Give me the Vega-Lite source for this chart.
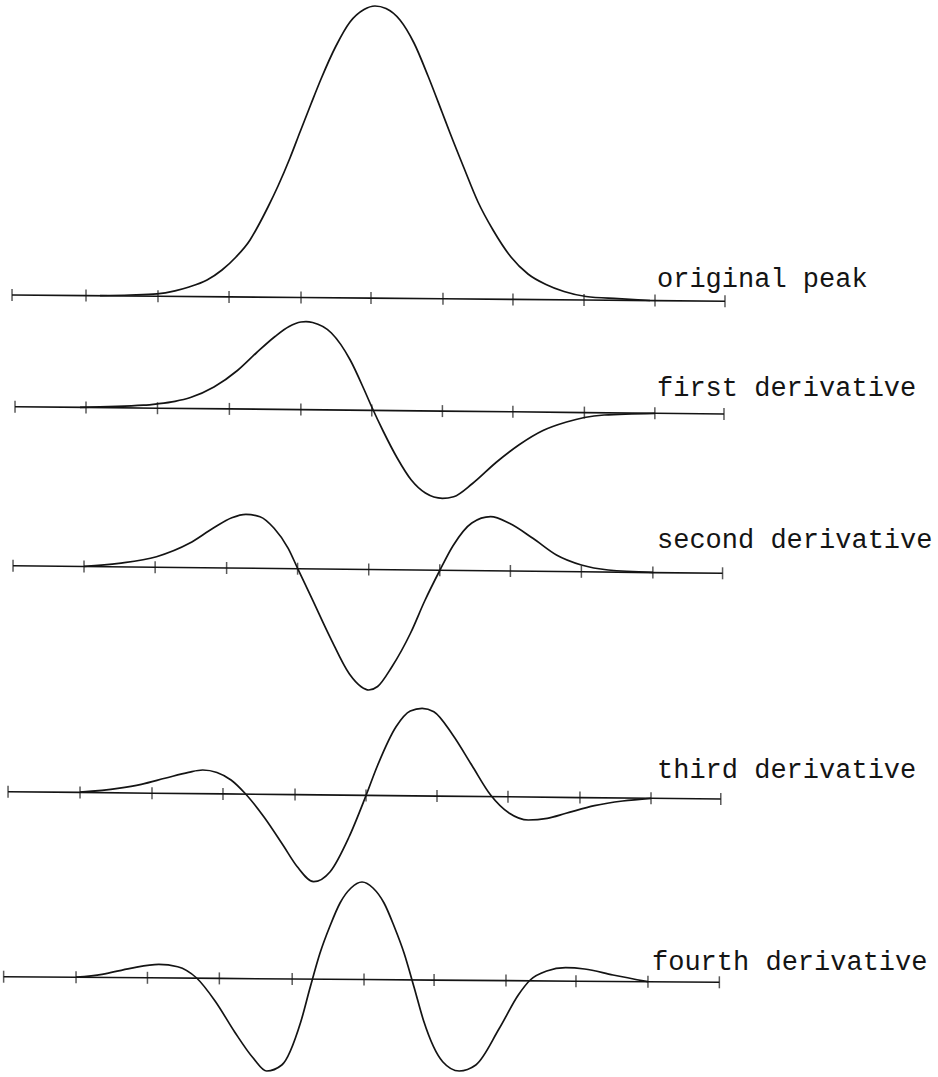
{
  "$schema": "https://vega.github.io/schema/vega-lite/v6.json",
  "width": 938,
  "height": 1077,
  "padding": 0,
  "autosize": {"type": "none"},
  "background": "white",
  "config": {"view": {"stroke": null}},
  "datasets": {
    "axis1": [{"x":-0.028,"y":0.01},{"x":1.011,"y":0.004},{"x":2.022,"y":-0.003},{"x":3.020,"y":-0.009},{"x":4.031,"y":-0.015},{"x":5.014,"y":-0.021},{"x":6.025,"y":-0.028},{"x":7.008,"y":-0.034},{"x":8.006,"y":-0.040},{"x":9.003,"y":-0.046},{"x":9.986,"y":-0.052}],
    "curve1": [{"x":1.208,"y":0.003},{"x":1.629,"y":0.01},{"x":2.008,"y":0.022},{"x":2.261,"y":0.052},{"x":2.458,"y":0.09},{"x":2.711,"y":0.16},{"x":2.921,"y":0.26},{"x":3.118,"y":0.39},{"x":3.315,"y":0.56},{"x":3.413,"y":0.68},{"x":3.567,"y":0.89},{"x":3.708,"y":1.10},{"x":3.876,"y":1.38},{"x":4.017,"y":1.64},{"x":4.171,"y":1.92},{"x":4.312,"y":2.17},{"x":4.522,"y":2.50},{"x":4.719,"y":2.74},{"x":4.916,"y":2.865},{"x":5.070,"y":2.90},{"x":5.225,"y":2.875},{"x":5.421,"y":2.76},{"x":5.618,"y":2.53},{"x":5.815,"y":2.20},{"x":6.011,"y":1.84},{"x":6.124,"y":1.63},{"x":6.320,"y":1.28},{"x":6.517,"y":0.94},{"x":6.728,"y":0.66},{"x":6.980,"y":0.39},{"x":7.219,"y":0.22},{"x":7.472,"y":0.115},{"x":7.725,"y":0.045},{"x":8.034,"y":-0.005},{"x":8.483,"y":-0.027},{"x":8.933,"y":-0.045}],
    "axis2": [{"x":0.014,"y":0.003},{"x":1.011,"y":-0.004},{"x":2.015,"y":-0.012},{"x":3.025,"y":-0.019},{"x":4.029,"y":-0.026},{"x":5.025,"y":-0.034},{"x":6.017,"y":-0.041},{"x":7.007,"y":-0.048},{"x":8.011,"y":-0.056},{"x":9.001,"y":-0.063},{"x":9.972,"y":-0.07}],
    "curve2": [{"x":0.927,"y":-0.003},{"x":1.817,"y":0.018},{"x":2.015,"y":0.032},{"x":2.261,"y":0.057},{"x":2.478,"y":0.095},{"x":2.808,"y":0.20},{"x":3.138,"y":0.365},{"x":3.402,"y":0.54},{"x":3.666,"y":0.705},{"x":3.864,"y":0.805},{"x":4.029,"y":0.85},{"x":4.101,"y":0.854},{"x":4.194,"y":0.845},{"x":4.458,"y":0.74},{"x":4.722,"y":0.47},{"x":4.920,"y":0.17},{"x":5.025,"y":0.0},{"x":5.184,"y":-0.24},{"x":5.382,"y":-0.51},{"x":5.580,"y":-0.73},{"x":5.778,"y":-0.86},{"x":6.017,"y":-0.913},{"x":6.175,"y":-0.897},{"x":6.440,"y":-0.765},{"x":6.770,"y":-0.555},{"x":7.100,"y":-0.375},{"x":7.430,"y":-0.235},{"x":7.760,"y":-0.15},{"x":8.011,"y":-0.105},{"x":8.288,"y":-0.08},{"x":9.001,"y":-0.063}],
    "axis3": [{"x":-0.014,"y":0.003},{"x":0.983,"y":-0.005},{"x":1.982,"y":-0.012},{"x":2.986,"y":-0.02},{"x":3.983,"y":-0.027},{"x":4.982,"y":-0.035},{"x":5.980,"y":-0.043},{"x":6.972,"y":-0.05},{"x":7.969,"y":-0.058},{"x":8.973,"y":-0.066},{"x":9.952,"y":-0.073}],
    "curve3": [{"x":0.983,"y":-0.004},{"x":1.472,"y":0.027},{"x":2.001,"y":0.093},{"x":2.463,"y":0.227},{"x":2.794,"y":0.377},{"x":3.059,"y":0.483},{"x":3.257,"y":0.517},{"x":3.455,"y":0.493},{"x":3.653,"y":0.377},{"x":3.851,"y":0.177},{"x":3.983,"y":-0.023},{"x":4.183,"y":-0.323},{"x":4.447,"y":-0.723},{"x":4.711,"y":-1.08},{"x":4.876,"y":-1.207},{"x":4.982,"y":-1.24},{"x":5.107,"y":-1.205},{"x":5.306,"y":-1.01},{"x":5.570,"y":-0.67},{"x":5.768,"y":-0.35},{"x":5.980,"y":-0.045},{"x":6.164,"y":0.20},{"x":6.430,"y":0.43},{"x":6.694,"y":0.493},{"x":6.958,"y":0.427},{"x":7.288,"y":0.277},{"x":7.619,"y":0.11},{"x":7.969,"y":0.01},{"x":8.346,"y":-0.04},{"x":8.973,"y":-0.063}],
    "axis4": [{"x":-0.084,"y":0.003},{"x":0.927,"y":-0.004},{"x":1.938,"y":-0.012},{"x":2.935,"y":-0.019},{"x":3.947,"y":-0.026},{"x":4.944,"y":-0.034},{"x":5.941,"y":-0.041},{"x":6.938,"y":-0.048},{"x":7.949,"y":-0.056},{"x":8.947,"y":-0.063},{"x":9.927,"y":-0.07}],
    "curve4": [{"x":0.927,"y":-0.002},{"x":1.458,"y":0.037},{"x":1.788,"y":0.077},{"x":2.119,"y":0.137},{"x":2.451,"y":0.197},{"x":2.650,"y":0.22},{"x":2.850,"y":0.195},{"x":3.048,"y":0.12},{"x":3.247,"y":-0.015},{"x":3.511,"y":-0.25},{"x":3.777,"y":-0.53},{"x":3.976,"y":-0.745},{"x":4.208,"y":-0.897},{"x":4.440,"y":-0.797},{"x":4.705,"y":-0.45},{"x":4.944,"y":-0.035},{"x":5.103,"y":0.26},{"x":5.368,"y":0.655},{"x":5.566,"y":0.81},{"x":5.732,"y":0.837},{"x":5.897,"y":0.803},{"x":6.163,"y":0.57},{"x":6.428,"y":0.27},{"x":6.694,"y":-0.03},{"x":6.958,"y":-0.213},{"x":7.223,"y":-0.28},{"x":7.489,"y":-0.263},{"x":7.753,"y":-0.213},{"x":8.152,"y":-0.137},{"x":8.549,"y":-0.09},{"x":8.947,"y":-0.063}],
    "axis5": [{"x":-0.146,"y":0.003},{"x":0.871,"y":-0.003},{"x":1.874,"y":-0.008},{"x":2.884,"y":-0.014},{"x":3.907,"y":-0.02},{"x":4.916,"y":-0.025},{"x":5.900,"y":-0.031},{"x":6.910,"y":-0.036},{"x":7.893,"y":-0.042},{"x":8.904,"y":-0.047},{"x":9.907,"y":-0.053}],
    "curve5": [{"x":0.871,"y":-0.002},{"x":1.236,"y":0.027},{"x":1.635,"y":0.087},{"x":2.034,"y":0.127},{"x":2.299,"y":0.103},{"x":2.565,"y":-0.01},{"x":2.831,"y":-0.247},{"x":3.097,"y":-0.547},{"x":3.362,"y":-0.813},{"x":3.549,"y":-0.94},{"x":3.761,"y":-0.88},{"x":4.027,"y":-0.45},{"x":4.157,"y":-0.11},{"x":4.298,"y":0.24},{"x":4.438,"y":0.51},{"x":4.579,"y":0.74},{"x":4.733,"y":0.89},{"x":4.888,"y":0.95},{"x":5.042,"y":0.89},{"x":5.197,"y":0.74},{"x":5.337,"y":0.51},{"x":5.478,"y":0.24},{"x":5.622,"y":-0.11},{"x":5.754,"y":-0.44},{"x":6.021,"y":-0.847},{"x":6.253,"y":-0.94},{"x":6.486,"y":-0.88},{"x":6.817,"y":-0.513},{"x":7.083,"y":-0.18},{"x":7.250,"y":-0.03},{"x":7.482,"y":0.06},{"x":7.747,"y":0.093},{"x":8.014,"y":0.08},{"x":8.413,"y":0.02},{"x":8.904,"y":-0.047}]
  },
  "encoding": {
    "x": {"field": "x", "type": "quantitative", "scale": {"domain": [-0.197, 12.978], "nice": false, "zero": false}, "axis": null}
  },
  "layer": [
    {
      "encoding": {"y": {"field": "y", "type": "quantitative", "scale": {"domain": [-7.81, 2.96], "nice": false, "zero": false}, "axis": null}},
      "layer": [
        {"data": {"name": "axis1"}, "mark": {"type": "line", "color": "#141414", "strokeWidth": 1.6}, "encoding": {}},
        {"data": {"name": "axis1"}, "mark": {"type": "tick", "orient": "vertical", "size": 12, "thickness": 1.5, "color": "#141414"}},
        {"data": {"name": "curve1"}, "mark": {"type": "line", "interpolate": "monotone", "color": "#141414", "strokeWidth": 1.7}, "encoding": {}},
        {"data": {"values": [{"x": 9.031, "y": 0.09, "t": "original peak"}]}, "mark": {"type": "text", "font": "Liberation Mono", "fontSize": 27, "align": "left", "baseline": "alphabetic", "color": "#141414"}, "encoding": {"text": {"field": "t"}}}
      ]
    },
    {
      "encoding": {"y": {"field": "y", "type": "quantitative", "scale": {"domain": [-6.70, 4.07], "nice": false, "zero": false}, "axis": null}},
      "layer": [
        {"data": {"name": "axis2"}, "mark": {"type": "line", "color": "#141414", "strokeWidth": 1.6}, "encoding": {}},
        {"data": {"name": "axis2"}, "mark": {"type": "tick", "orient": "vertical", "size": 12, "thickness": 1.5, "color": "#141414"}},
        {"data": {"name": "curve2"}, "mark": {"type": "line", "interpolate": "monotone", "color": "#141414", "strokeWidth": 1.7}, "encoding": {}},
        {"data": {"values": [{"x": 9.031, "y": 0.11, "t": "first derivative"}]}, "mark": {"type": "text", "font": "Liberation Mono", "fontSize": 27, "align": "left", "baseline": "alphabetic", "color": "#141414"}, "encoding": {"text": {"field": "t"}}}
      ]
    },
    {
      "encoding": {"y": {"field": "y", "type": "quantitative", "scale": {"domain": [-5.11, 5.66], "nice": false, "zero": false}, "axis": null}},
      "layer": [
        {"data": {"name": "axis3"}, "mark": {"type": "line", "color": "#141414", "strokeWidth": 1.6}, "encoding": {}},
        {"data": {"name": "axis3"}, "mark": {"type": "tick", "orient": "vertical", "size": 12, "thickness": 1.5, "color": "#141414"}},
        {"data": {"name": "curve3"}, "mark": {"type": "line", "interpolate": "monotone", "color": "#141414", "strokeWidth": 1.7}, "encoding": {}},
        {"data": {"values": [{"x": 9.031, "y": 0.18, "t": "second derivative"}]}, "mark": {"type": "text", "font": "Liberation Mono", "fontSize": 27, "align": "left", "baseline": "alphabetic", "color": "#141414"}, "encoding": {"text": {"field": "t"}}}
      ]
    },
    {
      "encoding": {"y": {"field": "y", "type": "quantitative", "scale": {"domain": [-2.85, 7.92], "nice": false, "zero": false}, "axis": null}},
      "layer": [
        {"data": {"name": "axis4"}, "mark": {"type": "line", "color": "#141414", "strokeWidth": 1.6}, "encoding": {}},
        {"data": {"name": "axis4"}, "mark": {"type": "tick", "orient": "vertical", "size": 12, "thickness": 1.5, "color": "#141414"}},
        {"data": {"name": "curve4"}, "mark": {"type": "line", "interpolate": "monotone", "color": "#141414", "strokeWidth": 1.7}, "encoding": {}},
        {"data": {"values": [{"x": 9.031, "y": 0.14, "t": "third derivative"}]}, "mark": {"type": "text", "font": "Liberation Mono", "fontSize": 27, "align": "left", "baseline": "alphabetic", "color": "#141414"}, "encoding": {"text": {"field": "t"}}}
      ]
    },
    {
      "encoding": {"y": {"field": "y", "type": "quantitative", "scale": {"domain": [-1.00, 9.77], "nice": false, "zero": false}, "axis": null}},
      "layer": [
        {"data": {"name": "axis5"}, "mark": {"type": "line", "color": "#141414", "strokeWidth": 1.6}, "encoding": {}},
        {"data": {"name": "axis5"}, "mark": {"type": "tick", "orient": "vertical", "size": 12, "thickness": 1.5, "color": "#141414"}},
        {"data": {"name": "curve5"}, "mark": {"type": "line", "interpolate": "monotone", "color": "#141414", "strokeWidth": 1.7}, "encoding": {}},
        {"data": {"values": [{"x": 8.961, "y": 0.07, "t": "fourth derivative"}]}, "mark": {"type": "text", "font": "Liberation Mono", "fontSize": 27, "align": "left", "baseline": "alphabetic", "color": "#141414"}, "encoding": {"text": {"field": "t"}}}
      ]
    }
  ],
  "resolve": {"scale": {"y": "independent"}}
}
